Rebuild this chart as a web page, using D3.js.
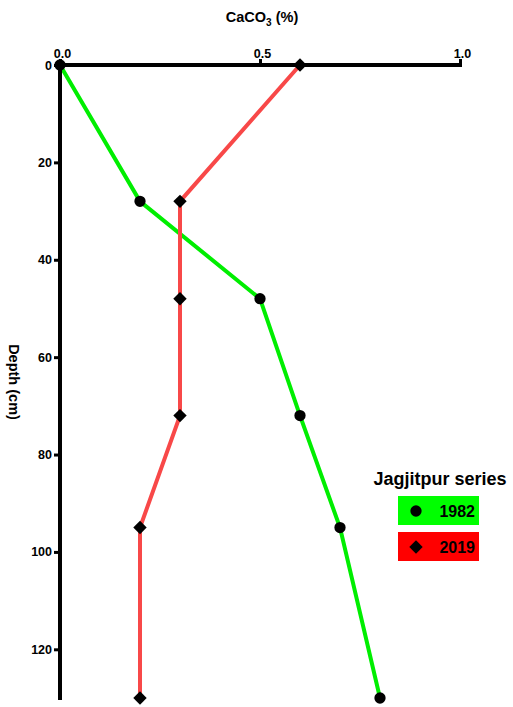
<!DOCTYPE html>
<html>
<head>
<meta charset="utf-8">
<script src="https://cdn.jsdelivr.net/npm/d3@7/dist/d3.min.js"></script>
<style>
  html, body { margin: 0; padding: 0; background: #fff; }
  svg { display: block; font-family: "Liberation Sans", Arial, sans-serif; }
</style>
</head>
<body>
<svg id="chart" width="513" height="707"></svg>
<script>
// Soil CaCO3 content by depth, Jagjitpur series
const depths = [0, 28, 48, 72, 95, 130];
const caco3_1982 = [0.0, 0.2, 0.5, 0.6, 0.7, 0.8];
const caco3_2019 = [0.6, 0.3, 0.3, 0.3, 0.2, 0.2];
const seriesNames = ["1982", "2019"];
const xTicks = [0, 0.5, 1.0];
const yTicks = [0, 20, 40, 60, 80, 100, 120];

const svg = d3.select("#chart");

const x = d3.scaleLinear().domain([0, 1]).range([60, 460]);
const y = d3.scaleLinear().domain([0, 130]).range([65, 698]);

// Lines (drawn first so axes/markers sit on top)
const line = d3.line().x(d => x(d[1])).y(d => y(d[0]));
const s1982 = depths.map((d, i) => [d, caco3_1982[i]]);
const s2019 = depths.map((d, i) => [d, caco3_2019[i]]);

svg.append("path").datum(s1982).attr("d", line)
  .attr("fill", "none").attr("stroke", "#00ee00").attr("stroke-width", 4);
svg.append("path").datum(s2019).attr("d", line)
  .attr("fill", "none").attr("stroke", "#f84848").attr("stroke-width", 4);

// Top axis
const xAxis = d3.axisTop(x).tickValues(xTicks)
  .tickFormat(d3.format(".1f")).tickSize(6).tickPadding(2);
const gx = svg.append("g").attr("transform", `translate(0,${y(0)})`).call(xAxis);
gx.select(".domain").attr("stroke", "#000").attr("stroke-width", 4)
  .attr("d", `M${x(0)},0H${x(1) + 2}`);
gx.selectAll(".tick line").attr("stroke", "#000").attr("stroke-width", 3);
gx.selectAll(".tick text").attr("font-size", 12.5).attr("font-weight", "bold")
  .attr("fill", "#000").attr("dy", "0.1em").attr("dx", "2px");

// Left axis
const yAxis = d3.axisLeft(y).tickValues(yTicks).tickSize(6).tickPadding(2);
const gy = svg.append("g").attr("transform", `translate(${x(0)},0)`).call(yAxis);
gy.select(".domain").attr("stroke", "#000").attr("stroke-width", 4)
  .attr("d", `M0,${y(0)}V${y(130) + 2}`);
gy.selectAll(".tick line").attr("stroke", "#000").attr("stroke-width", 3);
gy.selectAll(".tick text").attr("font-size", 12.5).attr("font-weight", "bold")
  .attr("fill", "#000");

// Markers: filled circles for 1982, square diamonds for 2019
const circ = d3.symbol().type(d3.symbolCircle).size(100);
const diam = d3.symbol().type(d3.symbolSquare).size(90);
svg.append("g").selectAll("path").data(s1982).join("path")
  .attr("d", circ).attr("transform", d => `translate(${x(d[1])},${y(d[0])})`)
  .attr("fill", "#000");
svg.append("g").selectAll("path").data(s2019).join("path")
  .attr("d", diam).attr("transform", d => `translate(${x(d[1])},${y(d[0])}) rotate(45)`)
  .attr("fill", "#000");

// Axis titles
const title = svg.append("text").attr("x", 262).attr("y", 22)
  .attr("text-anchor", "middle").attr("font-size", 14.5).attr("font-weight", "bold")
  .attr("fill", "#000");
title.append("tspan").text("CaCO");
title.append("tspan").text("3").attr("font-size", 10).attr("dy", 4);
title.append("tspan").text(" (%)").attr("dy", -4);

svg.append("text").attr("transform", "translate(9,382) rotate(90)")
  .attr("text-anchor", "middle").attr("font-size", 14.5).attr("font-weight", "bold")
  .attr("fill", "#000").text("Depth (cm)");

// Legend
svg.append("text").attr("x", 440).attr("y", 485).attr("text-anchor", "middle")
  .attr("font-size", 18).attr("font-weight", "bold").attr("fill", "#000")
  .text("Jagjitpur series");

const legendColors = ["#00ff00", "#ff0000"];
const legendSyms = [circ, diam];
const lg = svg.append("g").selectAll("g").data(seriesNames).join("g")
  .attr("transform", (d, i) => `translate(398,${496 + i * 36})`);
lg.append("rect").attr("width", 81).attr("height", 29)
  .attr("fill", (d, i) => legendColors[i]);
lg.append("path").attr("d", (d, i) => legendSyms[i]())
  .attr("transform", (d, i) => `translate(18,15)${i === 1 ? " rotate(45)" : ""}`)
  .attr("fill", "#000");
lg.append("text").attr("x", 77).attr("y", 21).attr("text-anchor", "end")
  .attr("font-size", 16).attr("font-weight", "bold").attr("fill", "#000")
  .text(d => d);
</script>
</body>
</html>
